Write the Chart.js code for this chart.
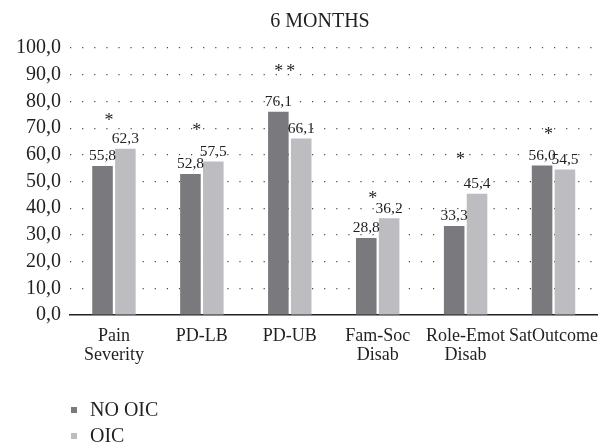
<!DOCTYPE html>
<html>
<head>
<meta charset="utf-8">
<script src="https://cdn.jsdelivr.net/npm/chart.js@4.4.1/dist/chart.umd.min.js"></script>
<style>
  body { margin: 0; background: #fff; }
  #wrap { width: 611px; height: 445px; }
</style>
</head>
<body>
<div id="wrap"><canvas id="chart" width="611" height="445"></canvas></div>
<script>
// 6 months outcome scores
const categories = [['Pain', 'Severity'], 'PD-LB', 'PD-UB', ['Fam-Soc', 'Disab'], ['Role-Emot', 'Disab'], 'SatOutcome'];
const noOic = [55.8, 52.8, 76.1, 28.8, 33.3, 56.0];
const oic = [62.3, 57.5, 66.1, 36.2, 45.4, 54.5];
// significance marks and the height they sit at (in axis units)
const marks = ['*', '*', '**', '*', '*', '*'];
const markLevel = [73.8, 70.1, 92.2, 44.3, 59.0, 68.6];
const yTicks = [0, 10, 20, 30, 40, 50, 60, 70, 80, 90, 100];

const TEXT = '#231f20';
const SERIF = '"Liberation Serif", "DejaVu Serif", serif';
const fmt = v => v.toFixed(1).replace('.', ',');

const extras = {
  id: 'extras',
  afterDatasetsDraw(chart) {
    const { ctx, scales } = chart;
    ctx.save();
    ctx.fillStyle = TEXT;
    // value labels
    ctx.font = '15.5px ' + SERIF;
    ctx.textAlign = 'center';
    ctx.textBaseline = 'bottom';
    chart.data.datasets.forEach((ds, i) => {
      chart.getDatasetMeta(i).data.forEach((bar, j) => {
        ctx.fillText(fmt(ds.data[j]), bar.x, bar.y - 2);
      });
    });
    // significance stars, a little gap between double stars
    ctx.font = '18px ' + SERIF;
    ctx.textBaseline = 'middle';
    marks.forEach((m, j) => {
      const x = scales.x.getPixelForValue(j) - 5;
      const y = scales.y.getPixelForValue(markLevel[j]) + 3;
      const stars = m.split('');
      stars.forEach((s, k) => ctx.fillText(s, x + (k - (stars.length - 1) / 2) * 12, y));
    });
    // title
    ctx.font = '20px ' + SERIF;
    ctx.fillText('6 MONTHS', 320, 22);
    // legend, stacked
    ctx.textAlign = 'left';
    chart.data.datasets.forEach((ds, i) => {
      const y = 410 + i * 26;
      ctx.fillStyle = ds.backgroundColor;
      ctx.fillRect(71, y - 3, 6, 6);
      ctx.fillStyle = TEXT;
      ctx.font = '20px ' + SERIF;
      ctx.fillText(ds.label, 90, y + 1);
    });
    ctx.restore();
  }
};

new Chart(document.getElementById('chart'), {
  type: 'bar',
  data: {
    labels: categories,
    datasets: [
      { label: 'NO OIC', data: noOic, backgroundColor: '#7a7a7e' },
      { label: 'OIC', data: oic, backgroundColor: '#bdbdc1' }
    ]
  },
  options: {
    responsive: false,
    animation: false,
    layout: { padding: { top: 48, right: 12, bottom: 80, left: 0 } },
    datasets: { bar: { categoryPercentage: 0.52, barPercentage: 0.9 } },
    plugins: { legend: { display: false }, title: { display: false }, tooltip: { enabled: false } },
    scales: {
      x: {
        grid: { display: false, drawTicks: false },
        border: { display: true, color: TEXT, width: 1.5 },
        ticks: { color: TEXT, font: { family: SERIF, size: 18, lineHeight: 1.05 }, padding: 12, maxRotation: 0, autoSkip: false },
        afterFit(scale) { scale.height = 50; }
      },
      y: {
        min: 0,
        max: 100,
        afterBuildTicks(scale) { scale.ticks = yTicks.map(v => ({ value: v })); },
        grid: {
          drawTicks: false,
          lineWidth: 1.2,
          color: c => (c.tick && c.tick.value === 0) ? 'rgba(0,0,0,0)' : '#4a4a4a'
        },
        border: { display: false, dash: [1.2, 10.9] },
        ticks: { color: TEXT, font: { family: SERIF, size: 20 }, padding: 9, autoSkip: false, callback: v => fmt(v) },
        afterFit(scale) { scale.width = 70; }
      }
    }
  },
  plugins: [extras]
});
</script>
</body>
</html>
